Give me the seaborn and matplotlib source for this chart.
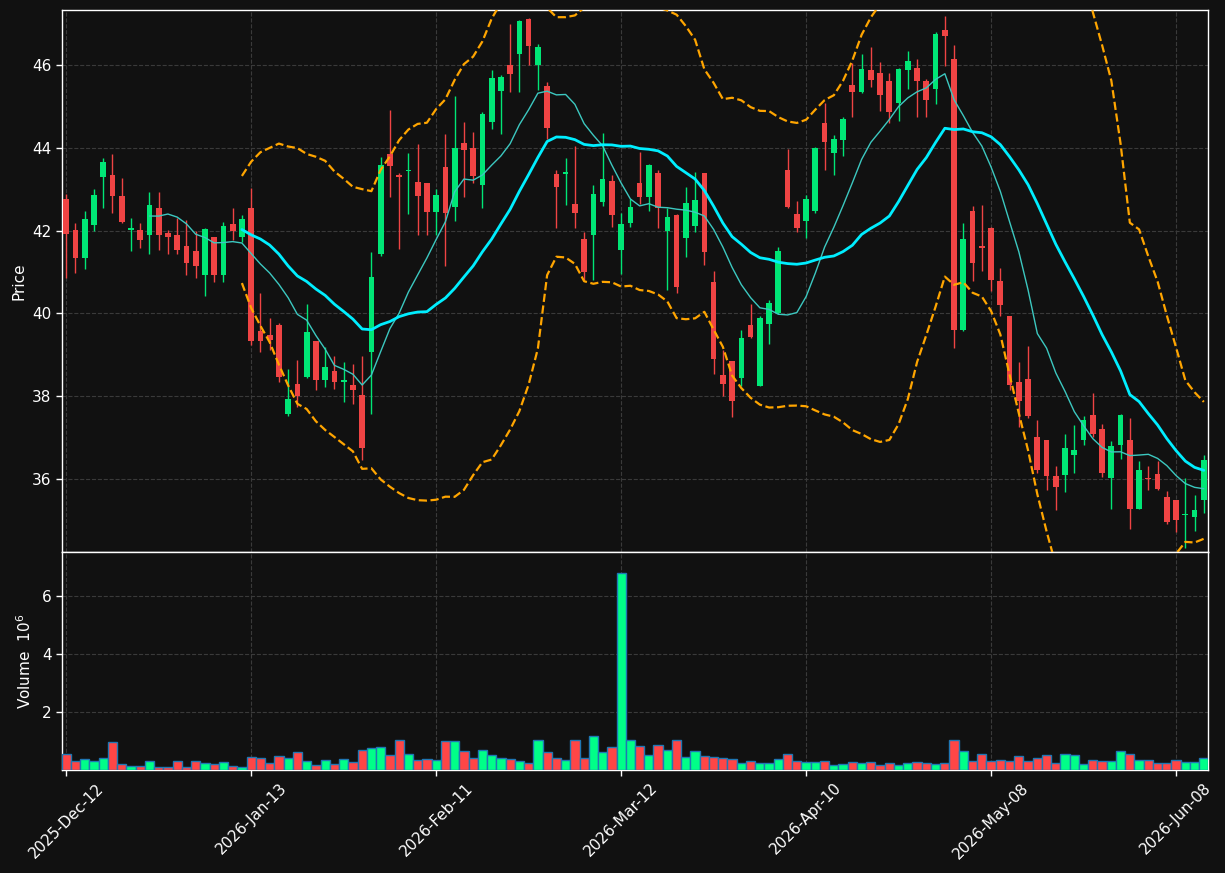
import matplotlib
matplotlib.use("Agg")
import matplotlib.pyplot as plt
import seaborn as sns
import numpy as np
import pandas as pd

# daily OHLC (index = trading day)
opens = [42.77, 42.02, 41.35, 42.14, 43.31, 43.35, 42.84, 42.02, 42.02, 41.90,
         42.55, 41.94, 41.90, 41.63, 41.51, 40.94, 41.85, 40.94, 42.16, 41.86,
         42.55, 39.58, 39.48, 39.72, 37.57, 38.29, 38.47, 39.33, 38.39, 38.61,
         38.35, 38.27, 38.03, 39.06, 41.45, 43.85, 43.36, 43.44, 43.18, 43.15,
         42.46, 43.54, 42.58, 44.12, 44.00, 43.10, 44.64, 45.39, 46.01, 46.28,
         47.12, 46.01, 45.50, 43.37, 43.38, 42.65, 41.80, 41.90, 42.70, 43.20,
         41.54, 42.19, 43.15, 42.82, 43.40, 42.00, 42.38, 41.83, 42.12, 43.40,
         40.76, 38.51, 38.85, 38.44, 39.72, 38.25, 39.75, 40.00, 43.47, 42.40,
         42.24, 42.48, 44.60, 43.89, 44.20, 45.52, 45.36, 45.89, 45.81, 45.62,
         45.10, 45.89, 45.93, 45.63, 45.43, 46.85, 46.15, 39.61, 42.49, 41.60,
         42.06, 40.78, 39.93, 38.33, 38.42, 37.01, 36.94, 36.07, 36.10, 36.58,
         36.95, 37.55, 37.21, 36.03, 36.82, 36.94, 35.28, 36.01, 36.11, 35.55,
         35.49, 35.12, 35.07, 35.49]
highs = [42.90, 42.20, 42.47, 43.00, 43.75, 43.85, 43.27, 42.30, 42.18, 42.93,
         42.93, 42.03, 42.31, 42.25, 41.99, 42.06, 41.86, 42.21, 42.54, 42.38,
         43.03, 40.49, 39.88, 39.76, 38.65, 38.87, 40.24, 39.33, 39.20, 38.98,
         38.82, 38.77, 38.97, 41.48, 43.78, 44.92, 43.39, 43.87, 44.11, 43.16,
         43.00, 44.33, 45.26, 44.62, 44.40, 44.87, 45.90, 45.76, 47.00, 47.10,
         47.14, 46.52, 45.60, 43.48, 43.77, 44.05, 41.98, 43.10, 44.36, 43.36,
         42.42, 42.77, 43.91, 43.61, 43.46, 42.54, 42.40, 43.05, 43.41, 43.40,
         41.03, 39.11, 38.85, 39.61, 40.22, 39.94, 40.32, 41.61, 43.98, 42.72,
         42.86, 44.02, 45.08, 44.31, 44.76, 46.06, 46.27, 46.44, 46.09, 45.82,
         45.94, 46.35, 46.15, 45.67, 46.80, 47.19, 46.50, 42.20, 42.59, 42.62,
         42.08, 41.11, 39.94, 38.82, 39.22, 37.42, 36.95, 36.30, 37.08, 37.29,
         37.51, 38.08, 37.32, 36.92, 37.57, 37.47, 36.43, 36.31, 36.42, 35.71,
         35.49, 36.03, 35.62, 36.57]
lows = [40.85, 40.97, 41.07, 42.00, 42.54, 42.44, 42.20, 41.50, 41.59, 41.44,
        41.54, 41.43, 41.44, 40.94, 40.85, 40.43, 40.75, 40.77, 41.77, 41.73,
        39.24, 39.06, 39.11, 38.35, 37.53, 37.74, 38.43, 38.16, 38.23, 38.18,
        37.85, 37.80, 36.45, 37.56, 41.39, 42.81, 41.57, 42.40, 41.90, 41.90,
        41.90, 41.15, 42.24, 42.82, 43.16, 42.56, 44.45, 44.33, 45.35, 45.35,
        46.01, 45.40, 44.23, 42.06, 42.62, 42.06, 40.81, 40.82, 42.61, 42.10,
        40.95, 42.08, 42.64, 42.47, 42.06, 40.57, 40.49, 41.36, 41.96, 41.17,
        38.53, 38.00, 37.50, 38.24, 39.41, 38.25, 39.27, 39.98, 42.54, 41.96,
        41.82, 42.42, 43.48, 43.34, 43.82, 44.74, 45.34, 45.47, 44.90, 44.60,
        44.66, 45.42, 44.76, 44.76, 45.06, 45.99, 39.16, 39.58, 40.79, 41.03,
        40.54, 39.95, 38.16, 37.25, 37.48, 36.13, 35.74, 35.24, 35.68, 36.13,
        36.82, 37.02, 36.04, 35.26, 36.49, 34.79, 35.28, 35.72, 35.72, 34.90,
        34.71, 34.33, 34.73, 35.18]
closes = [41.92, 41.35, 42.28, 42.86, 43.66, 42.85, 42.22, 42.04, 41.77, 42.62,
          41.90, 41.85, 41.54, 41.23, 41.15, 42.04, 40.94, 42.11, 42.00, 42.28,
          39.34, 39.34, 39.36, 38.47, 37.93, 38.01, 39.55, 38.39, 38.70, 38.35,
          38.39, 38.15, 36.75, 40.88, 43.59, 43.57, 43.31, 43.48, 42.84, 42.46,
          42.86, 42.44, 44.00, 43.96, 43.32, 44.82, 45.69, 45.71, 45.80, 47.07,
          46.47, 46.44, 44.49, 43.06, 43.42, 42.44, 41.01, 42.90, 43.25, 42.39,
          42.16, 42.57, 42.82, 43.59, 42.56, 42.33, 40.65, 42.67, 42.74, 41.49,
          38.91, 38.30, 37.89, 39.40, 39.44, 39.88, 40.25, 41.51, 42.57, 42.07,
          42.77, 44.01, 44.15, 44.22, 44.70, 45.36, 45.91, 45.64, 45.28, 44.88,
          45.91, 46.10, 45.62, 45.16, 46.76, 46.72, 39.61, 41.81, 41.23, 41.58,
          40.82, 40.21, 38.27, 37.89, 37.51, 36.21, 36.07, 35.81, 36.75, 36.70,
          37.42, 37.09, 36.15, 36.79, 37.55, 35.28, 36.21, 35.99, 35.76, 34.96,
          35.01, 35.15, 35.24, 36.45]
# volume in millions
volumes = [0.55, 0.31, 0.38, 0.31, 0.41, 0.97, 0.21, 0.13, 0.13, 0.31,
           0.09, 0.09, 0.31, 0.09, 0.31, 0.24, 0.21, 0.28, 0.13, 0.09,
           0.45, 0.41, 0.24, 0.48, 0.41, 0.62, 0.31, 0.17, 0.34, 0.21,
           0.38, 0.28, 0.69, 0.76, 0.79, 0.52, 1.03, 0.55, 0.34, 0.38,
           0.34, 1.00, 1.00, 0.66, 0.41, 0.69, 0.52, 0.41, 0.38, 0.31,
           0.24, 1.03, 0.62, 0.41, 0.34, 1.03, 0.41, 1.17, 0.62, 0.79,
           6.79, 1.03, 0.83, 0.52, 0.86, 0.69, 1.03, 0.45, 0.66, 0.48,
           0.45, 0.41, 0.38, 0.24, 0.31, 0.24, 0.24, 0.38, 0.55, 0.31,
           0.28, 0.28, 0.31, 0.17, 0.21, 0.28, 0.24, 0.28, 0.17, 0.24,
           0.17, 0.24, 0.28, 0.24, 0.21, 0.24, 1.03, 0.66, 0.31, 0.55,
           0.31, 0.34, 0.31, 0.48, 0.31, 0.41, 0.52, 0.24, 0.55, 0.52,
           0.21, 0.34, 0.31, 0.31, 0.66, 0.55, 0.34, 0.34, 0.24, 0.24,
           0.34, 0.28, 0.28, 0.41]

holidays = ["2025-12-25", "2026-01-01", "2026-01-19", "2026-02-16",
            "2026-04-03", "2026-05-25"]
dates = pd.bdate_range("2025-12-12", "2026-07-01", freq="C", holidays=holidays)[:len(closes)]

df = pd.DataFrame({"open": opens, "high": highs, "low": lows,
                   "close": closes, "volume": volumes})
df["idx"] = np.arange(len(df))
df["ma10"] = df["close"].rolling(10).mean()
df["ma20"] = df["close"].rolling(20).mean()
std20 = df["close"].rolling(20).std()
df["bb_up"] = df["ma20"] + 2 * std20
df["bb_lo"] = df["ma20"] - 2 * std20

BG = "#111111"
UP = "#00e676"
DOWN = "#ef4444"
VUP = "#00ff88"
VDOWN = "#ff4646"

sns.set_theme(style="dark", rc={
    "figure.facecolor": BG,
    "axes.facecolor": BG,
    "axes.edgecolor": "white",
    "axes.labelcolor": "white",
    "xtick.color": "white",
    "ytick.color": "white",
    "text.color": "white",
    "grid.color": "#3a3a3a",
    "grid.linestyle": "--",
    "grid.linewidth": 0.8,
})
plt.rcParams["font.family"] = ["DejaVu Sans"]

fig = plt.figure(figsize=(12.25, 8.73), dpi=100)
ax1 = fig.add_axes([62 / 1225, 1 - 552 / 873, (1208 - 62) / 1225, (552 - 10) / 873])
ax2 = fig.add_axes([62 / 1225, 1 - 770 / 873, (1208 - 62) / 1225, (770 - 552) / 873], sharex=ax1)

up = df["close"] >= df["open"]
ccol = np.where(up, UP, DOWN)
body_lo = np.minimum(df["open"], df["close"])
body_h = np.maximum(np.abs(df["close"] - df["open"]), 0.04)

ax1.vlines(df["idx"], df["low"], df["high"], colors=ccol, linewidth=1.0, zorder=3)
ax1.bar(df["idx"], body_h, bottom=body_lo, width=0.62, color=ccol, linewidth=0, zorder=4)

sns.lineplot(x=df["idx"], y=df["ma10"], ax=ax1, color="#3cc8c0", linewidth=1.0, zorder=5)
sns.lineplot(x=df["idx"], y=df["ma20"], ax=ax1, color="#00eeff", linewidth=2.0, zorder=5)
sns.lineplot(x=df["idx"], y=df["bb_up"], ax=ax1, color="#ffa500", linewidth=1.6,
             linestyle="--", zorder=5)
sns.lineplot(x=df["idx"], y=df["bb_lo"], ax=ax1, color="#ffa500", linewidth=1.6,
             linestyle="--", zorder=5)

vcol = np.where(up, VUP, VDOWN)
ax2.bar(df["idx"], df["volume"], width=1.0, color=vcol, edgecolor="#1f77b4",
        linewidth=1.0, zorder=3)

ax1.set_xlim(-0.45, len(df) - 0.55)
ax1.set_ylim(34.23, 47.34)
ax1.set_yticks([36, 38, 40, 42, 44, 46])
ax2.set_ylim(0, 7.53)
ax2.set_yticks([2, 4, 6])

tick_pos = list(range(0, len(df), 20))
ax2.set_xticks(tick_pos)
ax2.set_xticklabels([dates[i].strftime("%Y-%b-%d") for i in tick_pos],
                    rotation=45, ha="center", fontsize=11)
plt.setp(ax1.get_xticklabels(), visible=False)

for ax in (ax1, ax2):
    ax.grid(True, axis="both")
    ax.set_axisbelow(True)
    ax.tick_params(axis="both", direction="out", length=4, width=1, colors="white",
                   labelsize=11, bottom=True, left=True)
    for s in ax.spines.values():
        s.set_color("white")
        s.set_linewidth(1.0)

ax1.set_xlabel("")
ax2.set_xlabel("")
ax1.set_ylabel("Price", fontsize=11)
ax2.set_ylabel("Volume  $10^{6}$", fontsize=11)
ax1.yaxis.set_label_coords(-0.031, 0.5)
ax2.yaxis.set_label_coords(-0.024, 0.5)

fig.savefig("out.png", dpi=100, facecolor=BG)
